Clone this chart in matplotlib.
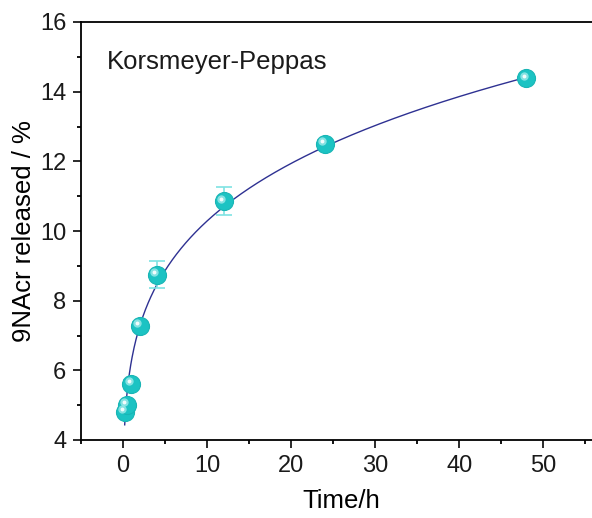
import numpy as np
import matplotlib
matplotlib.use("Agg")
import matplotlib.pyplot as plt
import matplotlib.transforms as mtransforms

plt.rcParams['font.family'] = ['Liberation Sans', 'DejaVu Sans']

# data
time_h = [0.25, 0.5, 1, 2, 4, 12, 24, 48]
released = [4.8, 5.0, 5.62, 7.28, 8.75, 10.85, 12.5, 14.38]
errors = [0.1, 0.1, 0.1, 0.12, 0.4, 0.4, 0.12, 0.1]

# Korsmeyer-Peppas model parameters (M = k * t^n)
kp_k = 6.27
kp_n = 0.215
fit_t = np.linspace(0.2, 48, 600)
fit_y = kp_k * fit_t ** kp_n

fig = plt.figure(figsize=(5.92, 5.18), dpi=100)
ax = fig.add_axes([81/592, 78/518, 521/592, 418/518])

ax.plot(fit_t, fit_y, color='#2E3192', lw=1.0, zorder=2)
ax.errorbar(time_h, released, yerr=errors, fmt='none', ecolor='#7FE3E3',
            elinewidth=1.2, capsize=6, capthick=1.2, zorder=3)
ax.plot(time_h, released, 'o', ms=13, color='#1CC3C3', mec='#19B5B5', mew=0.8, zorder=4)
offset = mtransforms.ScaledTranslation(-2.0/72, 2.0/72, fig.dpi_scale_trans)
ax.plot(time_h, released, 'o', ms=6, color='#9FEBEB', mec='none', alpha=0.8,
        transform=ax.transData + offset, zorder=5)
ax.plot(time_h, released, 'o', ms=2.8, color='white', mec='none', alpha=0.9,
        transform=ax.transData + offset, zorder=6)

ax.set_xlim(-5, 57)
ax.set_ylim(4, 16)
ax.set_xticks([0, 10, 20, 30, 40, 50])
ax.set_xticks([-5, 5, 15, 25, 35, 45, 55], minor=True)
ax.set_yticks([4, 6, 8, 10, 12, 14, 16])
ax.set_yticks([5, 7, 9, 11, 13, 15], minor=True)
ax.tick_params(axis='both', which='major', direction='out', length=5.5, width=1.3,
               labelsize=17, colors='#1a1a1a', pad=5)
ax.tick_params(axis='both', which='minor', direction='out', length=3, width=1.3)
for s in ['left', 'bottom', 'top']:
    ax.spines[s].set_linewidth(1.3)
ax.spines['right'].set_visible(False)

ax.set_xlabel('Time/h', fontsize=18.5, labelpad=9)
ax.set_ylabel('9NAcr released / %', fontsize=18.5, labelpad=3)
ax.text(0.05, 0.905, 'Korsmeyer-Peppas', transform=ax.transAxes, fontsize=18.5,
        color='#1a1a1a', va='center', ha='left')

fig.savefig('out.png', dpi=100)
